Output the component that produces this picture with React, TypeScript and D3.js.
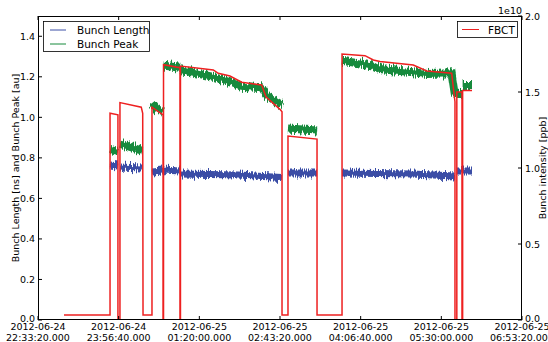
import React from "react";
import * as d3 from "d3";

const parse = d3.timeParse("%Y-%m-%d %H:%M:%S");

// FBCT bunch intensity, in units of 1e10 ppb (right axis)
const FBCT_E10: [string, number][] = [
  ["2012-06-24 23:00:12", 0.033],
  ["2012-06-24 23:47:45", 0.033],
  ["2012-06-24 23:47:45", 1.36],
  ["2012-06-24 23:55:55", 1.35],
  ["2012-06-24 23:55:55", 0],
  ["2012-06-24 23:58:00", 0],
  ["2012-06-24 23:58:00", 1.43],
  ["2012-06-25 00:20:00", 1.4],
  ["2012-06-25 00:21:30", 1.36],
  ["2012-06-25 00:21:50", 0.033],
  ["2012-06-25 00:31:05", 0.033],
  ["2012-06-25 00:31:05", 1.4],
  ["2012-06-25 00:42:30", 1.35],
  ["2012-06-25 00:42:30", 0],
  ["2012-06-25 00:43:00", 0],
  ["2012-06-25 00:43:00", 1.68],
  ["2012-06-25 01:00:00", 1.66],
  ["2012-06-25 01:00:00", 0],
  ["2012-06-25 01:00:30", 0],
  ["2012-06-25 01:00:30", 1.671],
  ["2012-06-25 01:34:26", 1.645],
  ["2012-06-25 01:39:35", 1.623],
  ["2012-06-25 01:51:40", 1.605],
  ["2012-06-25 02:03:45", 1.564],
  ["2012-06-25 02:24:25", 1.546],
  ["2012-06-25 02:28:50", 1.469],
  ["2012-06-25 02:43:20", 1.386],
  ["2012-06-25 02:45:25", 1.37],
  ["2012-06-25 02:45:25", 0.033],
  ["2012-06-25 02:51:35", 0.033],
  ["2012-06-25 02:51:35", 1.21],
  ["2012-06-25 03:21:35", 1.19],
  ["2012-06-25 03:21:35", 0.033],
  ["2012-06-25 03:47:25", 0.033],
  ["2012-06-25 03:47:25", 1.75],
  ["2012-06-25 04:11:08", 1.739],
  ["2012-06-25 04:19:45", 1.711],
  ["2012-06-25 04:26:38", 1.7],
  ["2012-06-25 05:01:01", 1.678],
  ["2012-06-25 05:14:55", 1.638],
  ["2012-06-25 05:40:41", 1.623],
  ["2012-06-25 05:44:06", 1.436],
  ["2012-06-25 05:44:06", 0],
  ["2012-06-25 05:46:00", 0],
  ["2012-06-25 05:46:00", 1.5],
  ["2012-06-25 05:51:20", 1.5],
  ["2012-06-25 05:51:20", 0],
  ["2012-06-25 05:52:00", 0],
  ["2012-06-25 05:52:00", 1.51],
  ["2012-06-25 06:01:40", 1.51],
];

// Bunch Peak [au] (left axis); null breaks the line between fills
const BUNCH_PEAK: [string, number | null][] = [
  ["2012-06-24 23:47:45", 0.84],
  ["2012-06-24 23:55:55", 0.83],
  ["2012-06-24 23:56:00", null],
  ["2012-06-24 23:58:00", 0.87],
  ["2012-06-25 00:20:45", 0.835],
  ["2012-06-25 00:21:00", null],
  ["2012-06-25 00:31:05", 1.07],
  ["2012-06-25 00:35:00", 1.045],
  ["2012-06-25 00:42:30", 1.025],
  ["2012-06-25 00:42:40", null],
  ["2012-06-25 00:43:00", 1.255],
  ["2012-06-25 01:00:00", 1.245],
  ["2012-06-25 01:00:10", null],
  ["2012-06-25 01:00:30", 1.233],
  ["2012-06-25 01:34:26", 1.2],
  ["2012-06-25 01:51:40", 1.173],
  ["2012-06-25 02:03:45", 1.151],
  ["2012-06-25 02:24:25", 1.143],
  ["2012-06-25 02:28:50", 1.11],
  ["2012-06-25 02:45:25", 1.06],
  ["2012-06-25 02:45:35", null],
  ["2012-06-25 02:51:35", 0.945],
  ["2012-06-25 03:21:35", 0.935],
  ["2012-06-25 03:21:45", null],
  ["2012-06-25 03:47:25", 1.279],
  ["2012-06-25 04:19:45", 1.255],
  ["2012-06-25 04:26:38", 1.238],
  ["2012-06-25 05:01:01", 1.222],
  ["2012-06-25 05:14:55", 1.214],
  ["2012-06-25 05:40:41", 1.217],
  ["2012-06-25 05:44:06", 1.11],
  ["2012-06-25 05:44:20", null],
  ["2012-06-25 05:46:00", 1.115],
  ["2012-06-25 05:51:20", 1.115],
  ["2012-06-25 05:51:30", null],
  ["2012-06-25 05:52:00", 1.16],
  ["2012-06-25 06:01:40", 1.16],
];

// Bunch Length [ns] (left axis)
const BUNCH_LENGTH: [string, number | null][] = [
  ["2012-06-24 23:47:45", 0.765],
  ["2012-06-24 23:55:55", 0.76],
  ["2012-06-24 23:56:00", null],
  ["2012-06-24 23:58:00", 0.755],
  ["2012-06-25 00:20:45", 0.75],
  ["2012-06-25 00:21:00", null],
  ["2012-06-25 00:31:05", 0.73],
  ["2012-06-25 00:42:30", 0.735],
  ["2012-06-25 00:43:00", 0.74],
  ["2012-06-25 01:00:00", 0.735],
  ["2012-06-25 01:00:10", null],
  ["2012-06-25 01:00:30", 0.72],
  ["2012-06-25 02:00:00", 0.715],
  ["2012-06-25 02:45:25", 0.703],
  ["2012-06-25 02:45:35", null],
  ["2012-06-25 02:51:35", 0.725],
  ["2012-06-25 03:21:35", 0.725],
  ["2012-06-25 03:21:45", null],
  ["2012-06-25 03:47:25", 0.725],
  ["2012-06-25 05:00:00", 0.72],
  ["2012-06-25 05:44:06", 0.71],
  ["2012-06-25 05:44:20", null],
  ["2012-06-25 05:46:00", 0.735],
  ["2012-06-25 06:01:40", 0.735],
];

const X_TICKS = [
  "2012-06-24 22:33:20",
  "2012-06-24 23:56:40",
  "2012-06-25 01:20:00",
  "2012-06-25 02:43:20",
  "2012-06-25 04:06:40",
  "2012-06-25 05:30:00",
  "2012-06-25 06:53:20",
];
const LEFT_TICKS = [0, 0.2, 0.4, 0.6, 0.8, 1.0, 1.2, 1.4];
const RIGHT_TICKS = [0, 0.5, 1.0, 1.5, 2.0];

const W = 548;
const H = 342;
const L = 38;
const R = 522;
const T = 16;
const B = 320;
const FONT = "DejaVu Sans, sans-serif";

export default function App() {
  const x = d3
    .scaleTime()
    .domain([parse("2012-06-24 22:33:20")!, parse("2012-06-25 06:53:20")!])
    .range([L, R]);
  const yL = d3.scaleLinear().domain([0, 1.5]).range([B, T]);
  const yR = d3.scaleLinear().domain([0, 2]).range([B, T]);

  const lineL = d3
    .line<[string, number | null]>()
    .defined((d) => d[1] != null)
    .x((d) => x(parse(d[0])!))
    .y((d) => yL(d[1] as number));
  const lineR = d3
    .line<[string, number]>()
    .x((d) => x(parse(d[0])!))
    .y((d) => yR(d[1]));

  const fDate = d3.timeFormat("%Y-%m-%d");
  const fTime = d3.timeFormat("%H:%M:%S.%L");

  return (
    <svg
      width={W}
      height={H}
      style={{ position: "absolute", left: 0, top: 0, background: "#fff" }}
      fontFamily={FONT}
    >
      <rect x={0} y={0} width={W} height={H} fill="#fff" />
      <defs>
        <clipPath id="plot">
          <rect x={L} y={T} width={R - L} height={B - T} />
        </clipPath>
        <filter id="rough" x="-5%" y="-60%" width="110%" height="220%">
          <feTurbulence type="fractalNoise" baseFrequency="0.9 0.04" numOctaves={2} seed={3} result="n" />
          <feColorMatrix
            in="n"
            type="matrix"
            values="0 0 0 0 0.5  0 1 0 0 0  0 0 0 0 0  0 0 0 0 1"
            result="nm"
          />
          <feDisplacementMap in="SourceGraphic" in2="nm" scale={10} xChannelSelector="R" yChannelSelector="G" />
        </filter>
      </defs>
      <g clipPath="url(#plot)">
        <g filter="url(#rough)">
          <path
            d={lineL(BUNCH_LENGTH) || ""}
            fill="none"
            stroke="#3a4ea6"
            strokeWidth={7}
            strokeLinecap="butt"
          />
        </g>
        <g filter="url(#rough)">
          <path
            d={lineL(BUNCH_PEAK) || ""}
            fill="none"
            stroke="#178a3c"
            strokeWidth={8}
            strokeLinecap="butt"
          />
        </g>
        <path
          d={lineR(FBCT_E10) || ""}
          fill="none"
          stroke="#ee2020"
          strokeWidth={1.5}
        />
      </g>

      {/* frame */}
      <rect
        x={L + 0.5}
        y={T + 0.5}
        width={R - L - 1}
        height={B - T - 1}
        fill="none"
        stroke="#000"
        strokeWidth={1}
      />

      {/* x ticks */}
      {X_TICKS.map((s) => {
        const d = parse(s)!;
        const px = x(d);
        return (
          <g key={s}>
            <line x1={px} x2={px} y1={B} y2={B - 4} stroke="#000" strokeWidth={1} />
            <line x1={px} x2={px} y1={T} y2={T + 4} stroke="#000" strokeWidth={1} />
            <text x={px} y={330} fontSize={9.5} textAnchor="middle" fill="#000">
              {fDate(d)}
            </text>
            <text x={px} y={340.5} fontSize={9.5} textAnchor="middle" fill="#000">
              {fTime(d)}
            </text>
          </g>
        );
      })}

      {/* left y ticks */}
      {LEFT_TICKS.map((v) => {
        const py = yL(v);
        return (
          <g key={"l" + v}>
            <line x1={L} x2={L + 4} y1={py} y2={py} stroke="#000" strokeWidth={1} />
            <text
              x={35}
              y={py + (v === 0 ? -2 : 0)}
              fontSize={9.5}
              textAnchor="end"
              dominantBaseline="central"
              fill="#000"
            >
              {v.toFixed(1)}
            </text>
          </g>
        );
      })}

      {/* right y ticks */}
      {RIGHT_TICKS.map((v) => {
        const py = yR(v);
        return (
          <g key={"r" + v}>
            <line x1={R - 4} x2={R} y1={py} y2={py} stroke="#000" strokeWidth={1} />
            <text
              x={525}
              y={py + (v === 0 ? -2 : 0)}
              fontSize={9.5}
              textAnchor="start"
              dominantBaseline="central"
              fill="#000"
            >
              {v.toFixed(1)}
            </text>
          </g>
        );
      })}
      <text x={R} y={14} fontSize={9.5} textAnchor="end" fill="#000">
        1e10
      </text>

      {/* axis labels */}
      <text
        transform={`translate(15,${(T + B) / 2}) rotate(-90)`}
        fontSize={9.5}
        textAnchor="middle"
        dominantBaseline="central"
        fill="#000"
      >
        Bunch Length [ns] and Bunch Peak [au]
      </text>
      <text
        transform={`translate(542,${(T + B) / 2}) rotate(-90)`}
        fontSize={9.5}
        textAnchor="middle"
        dominantBaseline="central"
        fill="#000"
      >
        Bunch intensity [ppb]
      </text>

      {/* left legend */}
      <rect x={43.5} y={21.5} width={106} height={30} fill="#fff" stroke="#000" strokeWidth={0.8} />
      <line x1={50} x2={66} y1={30} y2={30} stroke="#3a4ea6" strokeWidth={1} />
      <text x={77} y={30} fontSize={10.5} dominantBaseline="central" fill="#000">
        Bunch Length
      </text>
      <line x1={50} x2={66} y1={44} y2={44} stroke="#178a3c" strokeWidth={1} />
      <text x={77} y={44} fontSize={10.5} dominantBaseline="central" fill="#000">
        Bunch Peak
      </text>

      {/* right legend */}
      <rect x={457.5} y={21.5} width={60} height={16} fill="#fff" stroke="#000" strokeWidth={0.8} />
      <line x1={462} x2={479} y1={29.5} y2={29.5} stroke="#ee2020" strokeWidth={1} />
      <text x={488} y={29.5} fontSize={10.5} dominantBaseline="central" fill="#000">
        FBCT
      </text>
    </svg>
  );
}
